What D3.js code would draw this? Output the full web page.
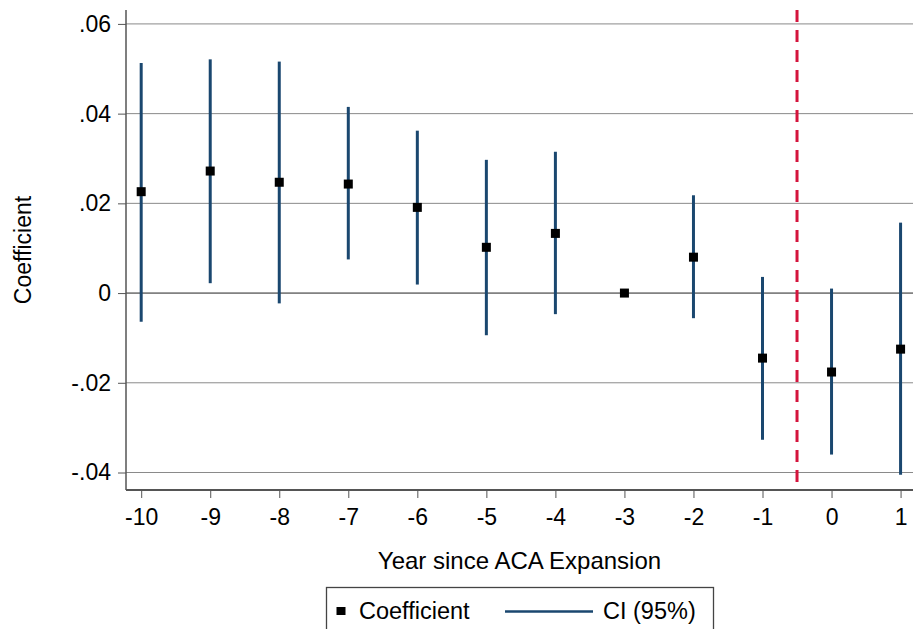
<!DOCTYPE html>
<html>
<head>
<meta charset="utf-8">
<script src="https://cdn.jsdelivr.net/npm/d3@7"></script>
<style>
    body { margin: 0; background: #fff; }
    svg { display: block; font-family: "Liberation Sans", Arial, sans-serif; }
    .axis text { font-size: 23px; fill: #000; }
    .axis line, .axis path { stroke: #555; }
    .grid line { stroke: #8a8a8a; stroke-width: 1; }
</style>
</head>
<body>
<div id="chart"></div>
<script>
var years = [-10, -9, -8, -7, -6, -5, -4, -3, -2, -1, 0, 1];
var coef = [0.0226, 0.0272, 0.0247, 0.0243, 0.0191, 0.0102, 0.0133, 0, 0.0080, -0.0145, -0.0176, -0.0125];
var ciLow = [-0.0064, 0.0022, -0.0023, 0.0075, 0.0019, -0.0094, -0.0047, 0, -0.0056, -0.0327, -0.0360, -0.0405];
var ciHigh = [0.0513, 0.0521, 0.0516, 0.0415, 0.0362, 0.0297, 0.0315, 0, 0.0218, 0.0036, 0.0010, 0.0157];
var yTicks = [-0.04, -0.02, 0, 0.02, 0.04, 0.06];
var yTickLabels = ["-.04", "-.02", "0", ".02", ".04", ".06"];
var expansionLine = -0.5;
var legendLabels = ["Coefficient", "CI (95%)"];

(function() {

    var width = 913
        , height = 629
        , pLeft = 126
        , pRight = 913
        , pTop = 10
        , pBottom = 490
        , navy = "#1a476f"
        , red = "#d4143c";

    var rows = years.map(function(d, i) {
        return {year: d, coef: coef[i], lo: ciLow[i], hi: ciHigh[i]};
    });

    var svg = d3.select("#chart")
        .append("svg")
        .attr("width", width)
        .attr("height", height);

    var x = d3.scaleLinear()
        .domain([-10.22, 1.18])
        .range([pLeft, pRight]);

    var y = d3.scaleLinear()
        .domain([-0.0439, 0.0631])
        .range([pBottom, pTop]);

    // grid
    svg.append("g")
        .attr("class", "grid")
        .selectAll("line")
        .data(yTicks)
        .enter().append("line")
        .attr("x1", pLeft)
        .attr("x2", pRight)
        .attr("y1", function(d) { return y(d); })
        .attr("y2", function(d) { return y(d); })
        .style("stroke", function(d) { return d === 0 ? "#222" : null; });

    var yAxis = d3.axisLeft(y)
        .tickValues(yTicks)
        .tickFormat(function(d, i) { return yTickLabels[i]; })
        .tickSizeInner(8)
        .tickSizeOuter(0)
        .tickPadding(7);

    var xAxis = d3.axisBottom(x)
        .tickValues(years)
        .tickFormat(function(d) { return String(d); })
        .tickSizeInner(8)
        .tickSizeOuter(0)
        .tickPadding(11);

    var gy = svg.append("g")
        .attr("class", "axis axis--y")
        .attr("transform", "translate(" + pLeft + ",0)")
        .call(yAxis);
    gy.select(".domain").remove();

    var gx = svg.append("g")
        .attr("class", "axis axis--x")
        .attr("transform", "translate(0," + pBottom + ")")
        .call(xAxis);
    gx.select(".domain").remove();

    svg.append("line")
        .attr("x1", pLeft).attr("x2", pLeft)
        .attr("y1", pTop).attr("y2", pBottom)
        .attr("stroke", "#555")
        .attr("stroke-width", 1.5);

    svg.append("line")
        .attr("x1", pLeft).attr("x2", pRight)
        .attr("y1", pBottom).attr("y2", pBottom)
        .attr("stroke", "#555")
        .attr("stroke-width", 2);

    // confidence intervals
    svg.append("g")
        .selectAll("line")
        .data(rows.filter(function(d) { return d.hi !== d.lo; }))
        .enter().append("line")
        .attr("x1", function(d) { return x(d.year); })
        .attr("x2", function(d) { return x(d.year); })
        .attr("y1", function(d) { return y(d.lo); })
        .attr("y2", function(d) { return y(d.hi); })
        .attr("stroke", navy)
        .attr("stroke-width", 3);

    svg.append("line")
        .attr("x1", x(expansionLine)).attr("x2", x(expansionLine))
        .attr("y1", pTop).attr("y2", pBottom)
        .attr("stroke", red)
        .attr("stroke-width", 3)
        .attr("stroke-dasharray", "12,8");

    svg.append("g")
        .selectAll("rect")
        .data(rows)
        .enter().append("rect")
        .attr("x", function(d) { return x(d.year) - 4.5; })
        .attr("y", function(d) { return y(d.coef) - 4.5; })
        .attr("width", 9)
        .attr("height", 9)
        .attr("fill", "#000");

    // axis titles
    svg.append("text")
        .attr("transform", "translate(31," + ((pTop + pBottom) / 2) + ") rotate(-90)")
        .attr("text-anchor", "middle")
        .style("font-size", "23px")
        .text("Coefficient");

    svg.append("text")
        .attr("x", (pLeft + pRight) / 2)
        .attr("y", 569)
        .attr("text-anchor", "middle")
        .style("font-size", "24px")
        .text("Year since ACA Expansion");

    // legend
    var lg = svg.append("g").attr("class", "legend");

    lg.append("rect")
        .attr("x", 326.5)
        .attr("y", 587.5)
        .attr("width", 387)
        .attr("height", 60)
        .attr("fill", "#fff")
        .attr("stroke", "#444")
        .attr("stroke-width", 1.3);

    lg.append("rect")
        .attr("x", 336.5)
        .attr("y", 607)
        .attr("width", 9)
        .attr("height", 8)
        .attr("fill", "#000");

    lg.append("text")
        .attr("x", 359)
        .attr("y", 619)
        .style("font-size", "23.5px")
        .text(legendLabels[0]);

    lg.append("line")
        .attr("x1", 505).attr("x2", 593)
        .attr("y1", 611.5).attr("y2", 611.5)
        .attr("stroke", navy)
        .attr("stroke-width", 2.5);

    lg.append("text")
        .attr("x", 603)
        .attr("y", 619)
        .style("font-size", "23.5px")
        .text(legendLabels[1]);

})();
</script>
</body>
</html>
